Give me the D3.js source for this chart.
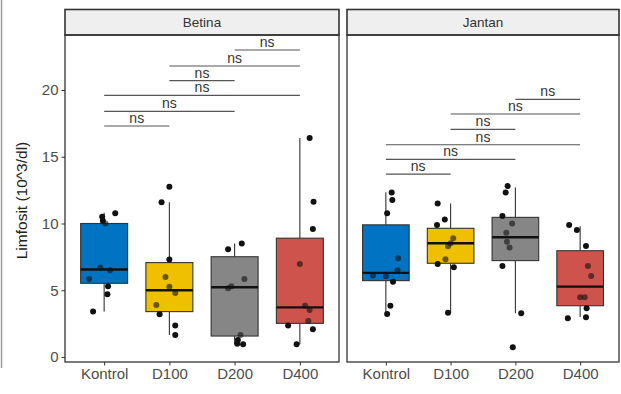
<!DOCTYPE html>
<meta charset="utf-8">
<script src="https://d3js.org/d3.v7.min.js"></script>
<style>
  body { margin: 0; background: #fff; }
  text { font-family: "Liberation Sans", Arial, sans-serif; }
</style>
<div id="chart"></div>
<script>

// categories and panels
const categories = ["Kontrol", "D100", "D200", "D400"];
const panels = ["Betina", "Jantan"];
const fills = ["#0073C2", "#EFC000", "#868686", "#CD534C"];
const yTicks = [0, 5, 10, 15, 20];

// box stats per category: [lower whisker, q1, median, q3, upper whisker]
const betinaBox = [
    [3.4, 5.52, 6.55, 10.0, 10.8],
    [1.65, 3.4, 5.0, 7.07, 11.6],
    [0.95, 1.57, 5.22, 7.51, 8.5],
    [0.95, 2.52, 3.72, 8.9, 16.4]
];
const jantanBox = [
    [3.2, 5.72, 6.3, 9.9, 12.35],
    [3.3, 7.02, 8.52, 9.64, 11.5],
    [3.27, 7.22, 8.97, 10.46, 12.7],
    [3.0, 3.84, 5.27, 7.96, 9.8]
];

// individual values (jittered points)
const betinaValues = [
    [10.76, 10.5, 10.2, 10.0, 5.85, 6.7, 6.5, 5.3, 4.7, 3.4],
    [12.76, 11.6, 7.3, 6.0, 5.27, 4.8, 3.9, 3.2, 2.35, 1.65],
    [8.07, 8.5, 5.84, 5.15, 5.3, 1.65, 1.27, 0.95, 1.0],
    [16.4, 11.63, 9.59, 6.97, 3.84, 3.52, 2.35, 2.7, 2.07, 0.95]
];
const betinaJitter = [
    [0.17, -0.03, -0.02, 0.02, -0.23, -0.06, 0.09, 0.06, 0.05, -0.17],
    [0, -0.12, 0, -0.06, 0, 0.09, -0.2, -0.15, 0.09, 0.09],
    [-0.1, 0.11, 0.15, -0.1, -0.05, 0.09, 0.05, 0.13, 0.04],
    [0.15, 0.21, 0.2, 0, 0.08, 0.15, -0.18, 0.13, 0.2, -0.05]
];
const jantanValues = [
    [12.33, 11.76, 10.76, 7.39, 6.5, 6.1, 6.05, 5.64, 3.84, 3.22],
    [11.5, 10.3, 9.89, 8.89, 8.52, 8.3, 7.32, 6.97, 6.72, 3.32],
    [12.8, 12.33, 10.56, 10.0, 9.31, 8.64, 8.2, 6.82, 3.27, 0.73],
    [9.89, 9.51, 8.31, 6.82, 6.07, 4.47, 4.47, 3.65, 2.9, 2.97]
];
const jantanJitter = [
    [0.09, 0.1, 0.02, 0.19, 0.18, -0.2, 0.0, 0.11, 0.07, 0.02],
    [-0.2, -0.09, -0.21, 0.04, 0, -0.04, -0.08, -0.2, 0.05, -0.04],
    [-0.12, -0.15, -0.2, -0.05, -0.14, -0.13, -0.09, -0.2, 0.09, -0.04],
    [-0.17, -0.05, 0.09, 0.12, 0.17, 0, 0.07, 0.1, -0.19, 0.09]
];

// pairwise comparisons (all "ns") and their bracket heights
const comparisons = [[0, 1], [0, 2], [0, 3], [1, 2], [1, 3], [2, 3]];
const betinaBracketY = [17.3, 18.4, 19.6, 20.7, 21.8, 23.0];
const jantanBracketY = [13.7, 14.8, 15.9, 17.05, 18.2, 19.3];
const sigLabel = "ns";

const panelData = [
    { name: panels[0], box: betinaBox, values: betinaValues, jitter: betinaJitter, brackets: betinaBracketY },
    { name: panels[1], box: jantanBox, values: jantanValues, jitter: jantanJitter, brackets: jantanBracketY }
];

const W = 621, H = 394;
const svg = d3.select("#chart").append("svg")
    .attr("width", W).attr("height", H);

// faint frame line on the far left, as in the source image
svg.append("line")
    .attr("x1", 1.5).attr("x2", 1.5).attr("y1", 0).attr("y2", 368)
    .attr("stroke", "#9a9a9a").attr("stroke-width", 1.5);

const stripTop = 9.5, panelTop = 35, panelBottom = 362;
const panelX = [[65, 339], [347, 619]];

var y = d3.scaleLinear().domain([-0.375, 24.12]).range([panelBottom, panelTop]);

// y axis title
svg.append("text")
    .attr("transform", "translate(27," + ((panelTop + panelBottom) / 2 + 2) + ") rotate(-90)")
    .attr("text-anchor", "middle")
    .attr("font-size", 15.5)
    .attr("fill", "#222")
    .text("Limfosit (10^3/dl)");

// y axis (left panel only)
var yAxis = svg.append("g")
    .attr("transform", "translate(" + panelX[0][0] + ",0)")
    .call(d3.axisLeft(y).tickValues(yTicks).tickSize(3.5).tickPadding(3));
yAxis.select(".domain").remove();
yAxis.selectAll("line").attr("stroke", "#333");
yAxis.selectAll("text")
    .attr("font-size", 15)
    .attr("fill", "#4d4d4d")
    .style("font-family", "'Liberation Sans', Arial, sans-serif");

panelData.forEach(function (p, pi) {
    var x0 = panelX[pi][0], x1 = panelX[pi][1];
    var x = d3.scalePoint().domain(categories).range([x0, x1]).padding(0.6);
    var step = x.step();
    var boxW = step * 0.72;

    var g = svg.append("g");

    // panel background
    g.append("rect")
        .attr("x", x0).attr("y", panelTop)
        .attr("width", x1 - x0).attr("height", panelBottom - panelTop)
        .attr("fill", "#fff");

    // strip
    g.append("rect")
        .attr("x", x0).attr("y", stripTop)
        .attr("width", x1 - x0).attr("height", panelTop - stripTop)
        .attr("fill", "#efefef")
        .attr("stroke", "#333").attr("stroke-width", 1.6);
    g.append("text")
        .attr("x", (x0 + x1) / 2).attr("y", (stripTop + panelTop) / 2 + 5)
        .attr("text-anchor", "middle")
        .attr("font-size", 13.5)
        .attr("fill", "#333")
        .text(p.name);

    // boxes
    categories.forEach(function (c, ci) {
        var s = p.box[ci];
        var cx = x(c);
        g.append("line")
            .attr("x1", cx).attr("x2", cx)
            .attr("y1", y(s[3])).attr("y2", y(s[4]))
            .attr("stroke", "#333").attr("stroke-width", 1.1);
        g.append("line")
            .attr("x1", cx).attr("x2", cx)
            .attr("y1", y(s[0])).attr("y2", y(s[1]))
            .attr("stroke", "#333").attr("stroke-width", 1.1);
        g.append("rect")
            .attr("x", cx - boxW / 2).attr("y", y(s[3]))
            .attr("width", boxW).attr("height", y(s[1]) - y(s[3]))
            .attr("fill", fills[ci])
            .attr("stroke", "#333").attr("stroke-width", 1.1);
        g.append("line")
            .attr("x1", cx - boxW / 2).attr("x2", cx + boxW / 2)
            .attr("y1", y(s[2])).attr("y2", y(s[2]))
            .attr("stroke", "#111").attr("stroke-width", 2.4);
    });

    // jittered points: solid outside the box, tinted by the box inside it
    categories.forEach(function (c, ci) {
        var s = p.box[ci];
        g.selectAll(null)
            .data(p.values[ci])
            .enter().append("circle")
            .attr("cx", function (d, i) { return x(c) + p.jitter[ci][i] * step; })
            .attr("cy", function (d) { return y(d); })
            .attr("r", 3)
            .attr("fill", "#111")
            .attr("fill-opacity", function (d) { return (d > s[3] || d < s[1]) ? 1 : 0.6; });
    });

    // significance brackets
    comparisons.forEach(function (pair, k) {
        var xa = x(categories[pair[0]]), xb = x(categories[pair[1]]);
        var yy = y(p.brackets[k]);
        g.append("line")
            .attr("x1", xa).attr("x2", xb)
            .attr("y1", yy).attr("y2", yy)
            .attr("stroke", "#555").attr("stroke-width", 1.1);
        g.append("text")
            .attr("x", (xa + xb) / 2).attr("y", yy - 3)
            .attr("text-anchor", "middle")
            .attr("font-size", 14)
            .attr("fill", "#333")
            .text(sigLabel);
    });

    // panel border
    g.append("rect")
        .attr("x", x0).attr("y", panelTop)
        .attr("width", x1 - x0).attr("height", panelBottom - panelTop)
        .attr("fill", "none")
        .attr("stroke", "#333").attr("stroke-width", 1.3);

    // x axis
    var xAxis = g.append("g")
        .attr("transform", "translate(0," + panelBottom + ")")
        .call(d3.axisBottom(x).tickSize(3.5).tickPadding(3));
    xAxis.select(".domain").remove();
    xAxis.selectAll("line").attr("stroke", "#333");
    xAxis.selectAll("text")
        .attr("font-size", 15)
        .attr("fill", "#4d4d4d")
        .style("font-family", "'Liberation Sans', Arial, sans-serif");
});

</script>
